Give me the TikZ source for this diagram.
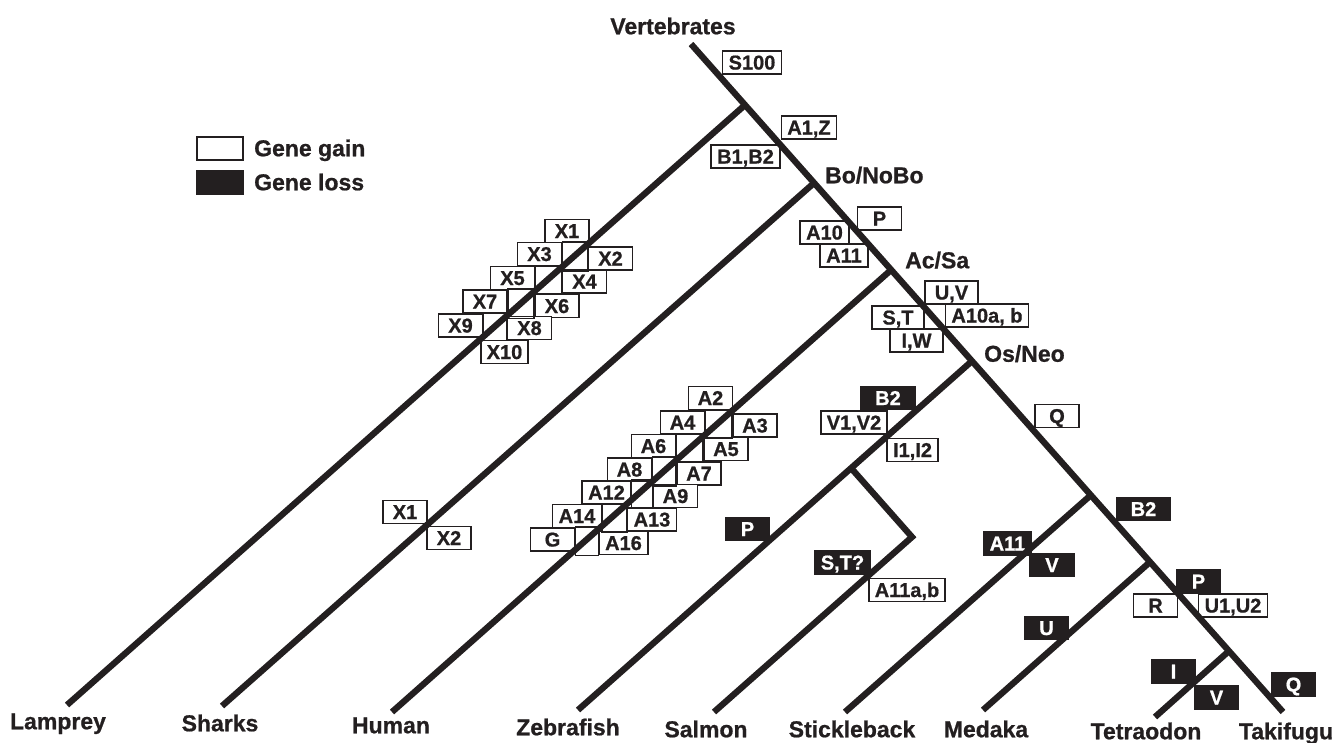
\documentclass[tikz,border=0pt]{standalone}
\usepackage{fontspec}
\setmainfont{Liberation Sans}[BoldFeatures={FakeBold=0.8}]
\definecolor{ink}{RGB}{35,31,32}
\begin{document}
\begin{tikzpicture}[x=1pt, y=-1pt,
    branch/.style={draw=ink, line width=6.3pt},
    gain/.style={draw=ink, fill=white, text=ink, line width=1.6pt, inner xsep=6pt, inner ysep=0pt,
      minimum width=44pt, minimum height=23pt, text height=14pt, text depth=0pt,
      font=\bfseries\fontsize{20}{20}\selectfont},
    loss/.style={gain, fill=ink, text=white},
    cell/.style={draw=ink, line width=1.6pt},
    taxon/.style={text=ink, inner sep=0pt, text height=16.5pt, text depth=0pt,
      font=\bfseries\fontsize{23}{23}\selectfont}]
  \useasboundingbox (0,0) rectangle (1339,742);
  % tree points
  \coordinate (root) at (691,44);
  \coordinate (nLam) at (745,105);
  \coordinate (nBo) at (814,183);
  \coordinate (nAc) at (891,270);
  \coordinate (nOs) at (972,361);
  \coordinate (nSt) at (1091,495);
  \coordinate (nMe) at (1150,562);
  \coordinate (nTe) at (1229,651);
  \coordinate (nSal1) at (851,468);
  \coordinate (nSal2) at (912,537);
  \coordinate (tFugu) at (1283,712);
  \coordinate (tLam) at (67,705);
  \coordinate (tShark) at (222,706);
  \coordinate (tHuman) at (392,712);
  \coordinate (tZebra) at (578,710);
  \coordinate (tSalmon) at (714,712);
  \coordinate (tStick) at (845,712);
  \coordinate (tMedaka) at (983,710);
  \coordinate (tTetra) at (1155,717);
  % legend
  \node (lgain) at (220,148.5) [gain, minimum width=46pt] {};
  \node (lloss) at (220,182.5) [loss, minimum width=46pt] {};
  \node (lgaint) at (254,148) [taxon, anchor=west] {Gene gain};
  \node (llosst) at (254,182) [taxon, anchor=west] {Gene loss};
  % gains
  \node (s100) at (752,62.5) [gain] {S100};
  \node (a1z) at (809,127.5) [gain] {A1,Z};
  \node (b1b2) at (745.5,156.5) [gain] {B1,B2};
  \node (pg) at (879.5,218.5) [gain] {P};
  \node (a10) at (824.5,232.5) [gain] {A10};
  \node (a11) at (844,255.5) [gain] {A11};
  \node (uv) at (951.5,292.5) [gain, minimum width=53pt] {U,V};
  \node (st) at (898,317.5) [gain, minimum width=52pt] {S,T};
  \node (a10ab) at (987,315.5) [gain] {A10a, b};
  \node (iw) at (916.5,340.5) [gain, minimum width=53pt] {I,W};
  \node (lx1) at (567,231) [gain] {X1};
  \node (lx3) at (539.5,254) [gain] {X3};
  \node (lx2) at (610.5,258.5) [gain] {X2};
  \node (lx5) at (512.5,278) [gain] {X5};
  \node (lx4) at (584.5,281.5) [gain] {X4};
  \node (lx7) at (485,301.5) [gain] {X7};
  \node (lx6) at (557,306) [gain] {X6};
  \node (lx9) at (460.5,325.5) [gain] {X9};
  \node (lx8) at (529.5,328) [gain] {X8};
  \node (lx10) at (504.5,352) [gain] {X10};
  \node (ha2) at (710.5,398) [gain] {A2};
  \node (ha4) at (682.5,422.5) [gain] {A4};
  \node (ha3) at (755,425.5) [gain] {A3};
  \node (ha6) at (653.5,446) [gain] {A6};
  \node (ha5) at (726,449) [gain] {A5};
  \node (ha8) at (629.5,469.5) [gain] {A8};
  \node (ha7) at (699,473.5) [gain] {A7};
  \node (ha12) at (606.5,492.5) [gain] {A12};
  \node (ha9) at (675.5,496) [gain] {A9};
  \node (ha14) at (577,516) [gain] {A14};
  \node (ha13) at (652,519.5) [gain] {A13};
  \node (hg) at (552.5,539.5) [gain] {G};
  \node (ha16) at (623.5,543) [gain] {A16};
  \node (sx1) at (405,512) [gain] {X1};
  \node (sx2) at (449,538) [gain] {X2};
  \node (v1v2) at (854,422.5) [gain] {V1,V2};
  \node (i1i2) at (912.5,450) [gain] {I1,I2};
  \node (qg) at (1057,416) [gain] {Q};
  \node (a11ab) at (907,590) [gain] {A11a,b};
  \node (rg) at (1155.5,605.5) [gain] {R};
  \node (u1u2) at (1233,605.5) [gain] {U1,U2};
  % losses
  \node (b2a) at (888,398) [loss, minimum width=54pt] {B2};
  \node (pz) at (747.5,529) [loss] {P};
  \node (stq) at (842.5,562.5) [loss] {S,T?};
  \node (a11l) at (1007.5,543.5) [loss] {A11};
  \node (vst) at (1052,565) [loss] {V};
  \node (b2b) at (1143.5,509) [loss, minimum width=54pt] {B2};
  \node (pf) at (1198.5,581.5) [loss] {P};
  \node (um) at (1046.5,628) [loss] {U};
  \node (it) at (1173.5,671.5) [loss] {I};
  \node (vt) at (1216.5,697.5) [loss] {V};
  \node (qf) at (1293.5,684.5) [loss] {Q};
  % empty cells between paired boxes
  \foreach \left/\right in {lx3/lx2, lx5/lx4, lx7/lx6, lx9/lx8, ha4/ha3, ha6/ha5, ha8/ha7, ha12/ha9, ha14/ha13, hg/ha16}
    \draw[cell] (\left.north east) rectangle (\right.south west);
  % branches
  \foreach \from/\to in {root/tFugu, nLam/tLam, nBo/tShark, nAc/tHuman, nOs/tZebra, nSt/tStick, nMe/tMedaka, nTe/tTetra}
    \draw[branch] (\from) -- (\to);
  \draw[branch] (nSal1) -- (nSal2) -- (tSalmon);
  % clade and taxon names
  \node (vert) at (673,26) [taxon] {Vertebrates};
  \node (bono) at (825,175) [taxon, anchor=west] {Bo/NoBo};
  \node (acsa) at (905,260) [taxon, anchor=west] {Ac/Sa};
  \node (osneo) at (984,353.5) [taxon, anchor=west] {Os/Neo};
  \node (lam) at (58,721) [taxon] {Lamprey};
  \node (shark) at (220,723) [taxon] {Sharks};
  \node (human) at (391,725) [taxon] {Human};
  \node (zebra) at (568,727) [taxon] {Zebrafish};
  \node (salmon) at (706,729) [taxon] {Salmon};
  \node (stick) at (852,729) [taxon] {Stickleback};
  \node (medaka) at (986,729) [taxon] {Medaka};
  \node (tetra) at (1146,731) [taxon] {Tetraodon};
  \node (fugu) at (1286,731) [taxon] {Takifugu};
\end{tikzpicture}
\end{document}
